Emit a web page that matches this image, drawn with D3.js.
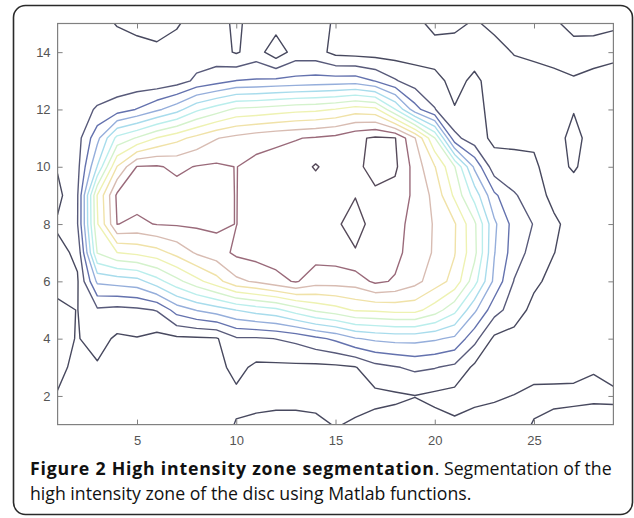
<!DOCTYPE html>
<html>
<head>
<meta charset="utf-8">
<script src="https://cdn.jsdelivr.net/npm/d3@7/dist/d3.min.js"></script>
<style>
  body { margin: 0; background: #fff; }
  svg { display: block; }
  .axis text { font-family: "Liberation Sans", Arial, sans-serif; font-size: 13px; fill: #555; }
  .axis line { stroke: #808080; }
  .caption { font-family: "Open Sans", sans-serif; font-size: 17.7px; fill: #111; }
</style>
</head>
<body>
<svg id="chart" width="634" height="518"></svg>
<script>
// ========= Data =========
// intensity grid, columns x = 1..29, rows from y = 15 (top) down to y = 1
const xTicks = [5, 10, 15, 20, 25];
const yTicks = [2, 4, 6, 8, 10, 12, 14];
const levels = [0, 1, 2, 3, 4, 5, 6, 7, 8, 9, 10, 11];
const levelColors = ['#48495f', '#585a7a', '#6472ae', '#95aedb', '#a8dcec', '#baeeec',
                     '#d4f2cc', '#eef2b2', '#f0e2a8', '#d8bcb2', '#9a6a7a', '#564a5a'];

const row15 = [0.4, 0.4, 0.3, -0.05, -0.3, -0.35, -0.1, 0.4, 0.4, -0.2, 0.45, 0.4, 0.4, 0.3, -0.1, -0.4, -0.4, -0.4, -0.3, 0.3, 0.2, -0.1, 0.2, 0.3, 0.3, 0.1, -0.2, -0.15, -0.05];
const row14 = [0.4, 0.4, 0.4, 0.4, 0.4, 0.2, 0.4, 0.45, 0.4, -0.1, 0.45, -0.6, 0.45, 0.4, -0.3, -0.4, -0.45, -0.45, -0.4, -0.45, -0.4, -0.4, -0.3, 0.05, 0.15, 0.25, 0.25, 0.2, 0.15];
const row13 = [0.4, 0.4, 0.4, 0.35, 0.35, 0.3, 0.55, 1.2, 1.6, 2.02, 2.1, 2.2, 2.3, 2.4, 2.45, 2.5, 1.95, 1.1, 0.5, 0.3, -0.3, 0.2, -0.4, -0.4, -0.3, -0.2, -0.05, -0.15, -0.25];
const row12 = [0.4, 0.6, 1.1, 1.5, 2.05, 2.8, 3.6, 4.8, 5.5, 6.2, 6.3, 6.5, 6.7, 6.8, 7.05, 7.5, 7.3, 5.05, 2.4, 1.05, 0.05, 0.4, -0.4, -0.5, -0.5, -0.45, -0.05, -0.4, -0.4];
const row11 = [0.4, 0.6, 2.7, 5.3, 6.1, 7.05, 7.7, 8.3, 8.95, 9.3, 9.6, 9.8, 9.95, 10.1, 10.3, 10.8, 11.15, 11.05, 9.05, 6.05, 1.3, 0.4, -0.2, -0.2, -0.1, -0.4, 0.3, -0.4, -0.5];
const row10 = [0.1, 0.7, 4.05, 8.05, 10.05, 10.1, 9.8, 10.05, 10.15, 9.98, 10.3, 10.4, 10.5, 11.1, 10.5, 10.6, 11.6, 11.2, 9.6, 8.05, 6.05, 2.8, 0.4, 0.3, 0.1, -0.3, 0.1, -0.4, -0.5];
const row9  = [-0.3, 0.9, 7.05, 10.2, 10.4, 10.5, 10.4, 10.3, 10.2, 9.98, 10.4, 10.5, 10.5, 10.4, 10.5, 10.95, 10.7, 10.6, 9.8, 8.7, 6.8, 4.6, 2.2, 1.1, 0.5, -0.3, -0.4, -0.45, -0.5];
const row8  = [0.15, 0.95, 6.9, 10.02, 9.8, 10.05, 10.1, 10.15, 10.2, 9.98, 10.5, 10.5, 10.5, 10.5, 10.8, 11.5, 10.5, 10.3, 9.7, 8.9, 8.1, 6.2, 3.2, 1.6, 0.95, 0.2, -0.4, -0.45, -0.5];
const row7  = [-0.3, 0.2, 6.05, 6.98, 7.25, 7.6, 8.33, 9.13, 9.56, 10.2, 10.4, 10.5, 10.5, 10.4, 10.5, 10.9, 10.6, 10.3, 9.5, 8.9, 8.05, 6.3, 3.05, 1.5, 0.6, 0.02, -0.4, -0.45, -0.5];
const row6  = [-0.3, -0.1, 3.2, 3.4, 3.6, 4.6, 5.67, 6.67, 7.6, 8.77, 9.14, 9.67, 10.1, 9.46, 9.43, 9.49, 10.2, 9.9, 9.3, 8.5, 7.67, 5.4, 2.75, 0.95, 0.2, -0.3, -0.4, -0.45, -0.5];
const row5  = [0.2, -0.02, 0.83, 0.7, 0.8, 1.05, 2.43, 3.05, 3.5, 4.02, 4.44, 4.75, 5.5, 6.2, 6.6, 7.12, 7.17, 7.33, 7.33, 6.5, 5.29, 3.2, 1.4, 0.5, -0.3, -0.4, -0.45, -0.45, -0.5];
const row4  = [0.3, -0.05, 0.34, -0.15, -0.05, -0.3, -0.2, -0.15, -0.1, 0.87, 0.875, 1.02, 1.25, 1.75, 2.2, 2.92, 3.2, 3.33, 3.33, 3.14, 2.8, 1.33, -0.2, -0.35, -0.4, -0.45, -0.45, -0.4, -0.4];
const row3  = [0.2, -0.2, -0.1, -0.4, -0.4, -0.45, -0.4, -0.35, -0.3, 0.29, -0.2, -0.2, -0.2, -0.25, -0.2, -0.05, 0.67, 0.93, 1.19, 1.05, 0.78, -0.2, -0.35, -0.4, -0.3, -0.35, -0.25, -0.05, -0.3];
const row2  = [-0.05, -0.3, -0.45, -0.5, -0.5, -0.5, -0.5, -0.45, -0.4, -0.2, -0.3, -0.3, -0.3, -0.3, -0.3, -0.3, -0.25, -0.15, -0.02, -0.2, -0.35, -0.2, -0.1, 0.02, 0.2, 0.25, 0.2, 0.15, 0.15];
const row1  = [-0.3, -0.4, -0.45, -0.5, -0.5, -0.5, -0.5, -0.45, -0.4, 0.05, 0.2, 0.3, 0.3, 0.2, -0.05, 0.1, 0.3, 0.35, 0.4, 0.3, 0.15, 0.3, 0.35, 0.3, -0.05, -0.3, -0.35, -0.4, -0.35];

const rows = [row15, row14, row13, row12, row11, row10, row9, row8, row7, row6, row5, row4, row3, row2, row1];
const nx = row1.length, ny = rows.length;

// ========= Layout =========
const svg = d3.select('#chart');
const x = d3.scaleLinear().domain([1, 29]).range([57.6, 613.4]);
const y = d3.scaleLinear().domain([1, 15]).range([424.6, 23.5]);

// Outer rounded frame
svg.append('rect')
  .attr('x', 13.5).attr('y', 5.5)
  .attr('width', 619).attr('height', 509)
  .attr('rx', 12).attr('ry', 12)
  .attr('fill', 'none')
  .attr('stroke', '#2a2a2a')
  .attr('stroke-width', 1.6);

svg.append('clipPath').attr('id', 'plotClip')
  .append('rect')
  .attr('x', x(1)).attr('y', y(15))
  .attr('width', x(29) - x(1)).attr('height', y(1) - y(15));

// ========= Contours =========
const contours = d3.contours()
  .size([nx, ny])
  .thresholds(levels)(rows.flat());

// grid cell centres sit at +0.5 in contour space
const projection = d3.geoTransform({
  point: function(cx, cy) { this.stream.point(x(cx + 0.5), y(ny + 0.5 - cy)); }
});
const path = d3.geoPath(projection);

svg.append('g')
  .attr('clip-path', 'url(#plotClip)')
  .selectAll('path')
  .data(contours)
  .join('path')
  .attr('d', path)
  .attr('fill', 'none')
  .attr('stroke', (d, i) => levelColors[i])
  .attr('stroke-width', 1.4)
  .attr('stroke-linejoin', 'round');

// ========= Axes =========
svg.append('g').attr('class', 'axis')
  .attr('transform', `translate(0,${y(1)})`)
  .call(d3.axisBottom(x).tickValues(xTicks).tickSizeInner(-5).tickSizeOuter(0).tickPadding(11))
  .call(g => g.select('.domain').remove());

svg.append('g').attr('class', 'axis')
  .attr('transform', `translate(${x(1)},0)`)
  .call(d3.axisLeft(y).tickValues(yTicks).tickSizeInner(-5).tickSizeOuter(0).tickPadding(7))
  .call(g => g.select('.domain').remove());

svg.append('g').attr('class', 'axis')
  .attr('transform', `translate(0,${y(15)})`)
  .call(d3.axisTop(x).tickValues(xTicks).tickSizeInner(-5).tickSizeOuter(0).tickFormat(''))
  .call(g => g.select('.domain').remove());

svg.append('g').attr('class', 'axis')
  .attr('transform', `translate(${x(29)},0)`)
  .call(d3.axisRight(y).tickValues(yTicks).tickSizeInner(-5).tickSizeOuter(0).tickFormat(''))
  .call(g => g.select('.domain').remove());

svg.append('rect')
  .attr('x', x(1)).attr('y', y(15))
  .attr('width', x(29) - x(1)).attr('height', y(1) - y(15))
  .attr('fill', 'none')
  .attr('stroke', '#808080')
  .attr('stroke-width', 1.2);

// ========= Caption =========
const cap1 = svg.append('text').attr('class', 'caption').attr('x', 30).attr('y', 475);
cap1.append('tspan').attr('font-weight', 'bold').attr('letter-spacing', 0.8)
  .text('Figure 2 High intensity zone segmentation');
cap1.append('tspan').text('. Segmentation of the');

svg.append('text').attr('class', 'caption').attr('x', 30).attr('y', 500)
  .text('high intensity zone of the disc using Matlab functions.');
</script>
</body>
</html>
